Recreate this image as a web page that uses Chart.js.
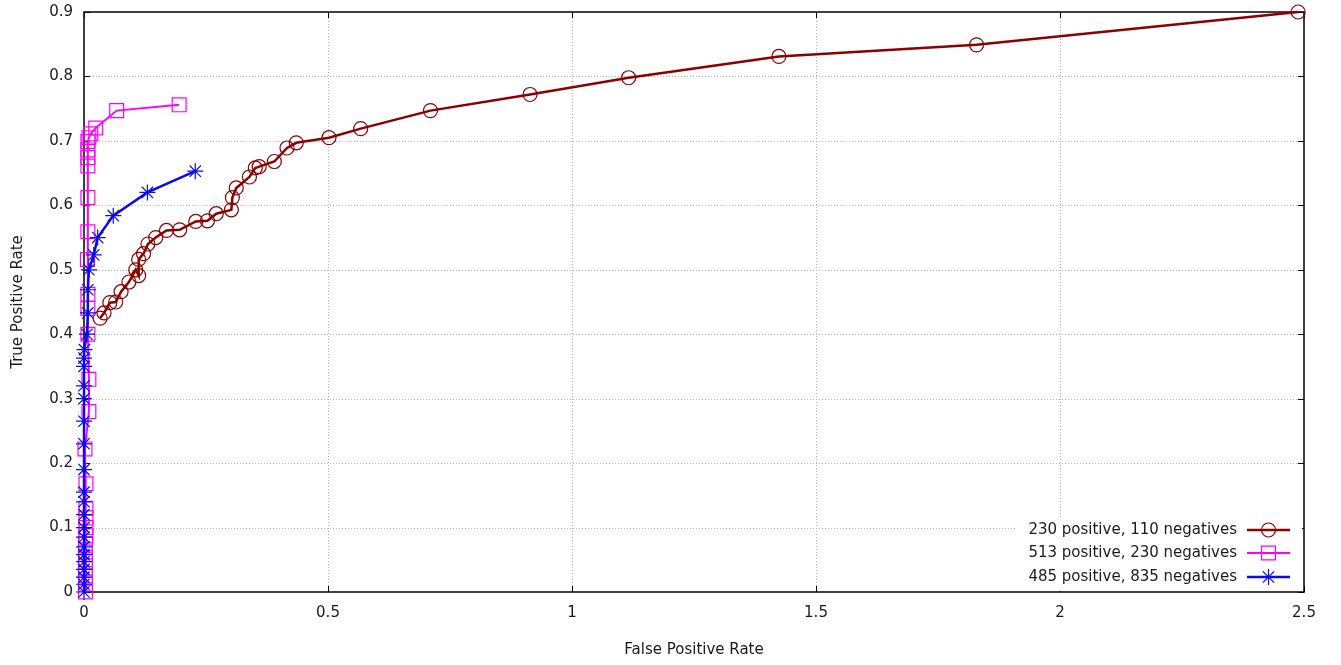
<!DOCTYPE html>
<html>
<head>
<meta charset="utf-8">
<title>ROC curves</title>
<script src="https://cdn.jsdelivr.net/npm/chart.js@4.4.1/dist/chart.umd.min.js"></script>
<style>
  html, body { margin: 0; padding: 0; background: #ffffff; }
  #wrap { width: 1341px; height: 665px; }
</style>
</head>
<body>
<div id="wrap"><canvas id="roc" width="1341" height="665"></canvas></div>
<script>
// Axis ticks
const xTickValues = [0, 0.5, 1, 1.5, 2, 2.5];
const yTickValues = [0, 0.1, 0.2, 0.3, 0.4, 0.5, 0.6, 0.7, 0.8, 0.9];

// Series names
const seriesLabels = [
  '230 positive, 110 negatives',
  '513 positive, 230 negatives',
  '485 positive, 835 negatives'
];

// Series 1: 230 positive, 110 negatives
const fprSmall = [0.033, 0.041, 0.053, 0.065, 0.076, 0.092, 0.106, 0.112, 0.112, 0.122,
                  0.131, 0.147, 0.169, 0.196, 0.229, 0.253, 0.271, 0.302, 0.304, 0.312,
                  0.339, 0.351, 0.359, 0.390, 0.416, 0.435, 0.502, 0.567, 0.710, 0.914,
                  1.116, 1.424, 1.829, 2.488];
const tprSmall = [0.425, 0.433, 0.449, 0.450, 0.466, 0.481, 0.500, 0.491, 0.516, 0.525,
                  0.540, 0.550, 0.561, 0.562, 0.575, 0.576, 0.587, 0.593, 0.612, 0.627,
                  0.644, 0.658, 0.660, 0.668, 0.689, 0.697, 0.705, 0.719, 0.747, 0.772,
                  0.798, 0.831, 0.849, 0.900];

// Series 2: 513 positive, 230 negatives
const fprMedium = [0.003, 0.003, 0.003, 0.003, 0.003, 0.003, 0.003, 0.004, 0.004, 0.004,
                   0.004, 0.004, 0.002, 0.010, 0.010, 0.008, 0.008, 0.008, 0.007, 0.008,
                   0.008, 0.008, 0.008, 0.008, 0.008, 0.010, 0.014, 0.024, 0.067, 0.195];
const tprMedium = [0.000, 0.012, 0.025, 0.037, 0.050, 0.062, 0.075, 0.087, 0.100, 0.115,
                   0.130, 0.168, 0.222, 0.280, 0.330, 0.400, 0.440, 0.462, 0.516, 0.559,
                   0.612, 0.661, 0.674, 0.686, 0.699, 0.705, 0.711, 0.720, 0.747, 0.756];

// Series 3: 485 positive, 835 negatives
const fprLarge = [0, 0, 0, 0, 0, 0, 0, 0, 0, 0,
                  0, 0, 0, 0, 0, 0, 0, 0, 0, 0.001,
                  0.006, 0.008, 0.008, 0.010, 0.020, 0.028, 0.060, 0.130, 0.228];
const tprLarge = [0.000, 0.012, 0.023, 0.035, 0.047, 0.058, 0.070, 0.085, 0.100, 0.120,
                  0.140, 0.155, 0.190, 0.230, 0.265, 0.300, 0.320, 0.350, 0.363, 0.376,
                  0.400, 0.433, 0.469, 0.500, 0.523, 0.550, 0.584, 0.620, 0.653];

const seriesColors = ['#8b0000', '#ff00ff', '#0a0aee'];
const FONT = 'DejaVu Sans';
const TEXT_COLOR = '#1a1a1a';

function zip(xs, ys) { return xs.map((x, i) => ({ x: x, y: ys[i] })); }

// Light dotted grid, black frame and inward tick marks on all four sides
const framePlugin = {
  id: 'frameGrid',
  beforeDatasetsDraw(chart) {
    const { ctx, chartArea: a, scales: { x, y } } = chart;
    ctx.save();
    ctx.lineWidth = 1;
    ctx.strokeStyle = '#b0b0b0';
    ctx.setLineDash([1, 2]);
    xTickValues.forEach(v => {
      const px = Math.round(x.getPixelForValue(v)) + 0.5;
      if (px <= a.left + 1 || px >= a.right - 1) return;
      ctx.beginPath(); ctx.moveTo(px, a.top); ctx.lineTo(px, a.bottom); ctx.stroke();
    });
    yTickValues.forEach(v => {
      const py = Math.round(y.getPixelForValue(v)) + 0.5;
      if (py <= a.top + 1 || py >= a.bottom - 1) return;
      ctx.beginPath(); ctx.moveTo(a.left, py); ctx.lineTo(a.right, py); ctx.stroke();
    });
    ctx.setLineDash([]);
    ctx.strokeStyle = '#000000';
    ctx.lineWidth = 1;
    const t = 6;
    xTickValues.forEach(v => {
      const px = Math.round(x.getPixelForValue(v)) + 0.5;
      ctx.beginPath();
      ctx.moveTo(px, a.bottom); ctx.lineTo(px, a.bottom - t);
      ctx.moveTo(px, a.top); ctx.lineTo(px, a.top + t);
      ctx.stroke();
    });
    yTickValues.forEach(v => {
      const py = Math.round(y.getPixelForValue(v)) + 0.5;
      ctx.beginPath();
      ctx.moveTo(a.left, py); ctx.lineTo(a.left + t, py);
      ctx.moveTo(a.right, py); ctx.lineTo(a.right - t, py);
      ctx.stroke();
    });
    ctx.lineWidth = 1.5;
    ctx.strokeRect(a.left, a.top, a.right - a.left, a.bottom - a.top);
    ctx.restore();
  }
};

function drawMarker(ctx, style, cx, cy, r) {
  ctx.beginPath();
  if (style === 'circle') {
    ctx.arc(cx, cy, r, 0, Math.PI * 2);
  } else if (style === 'rect') {
    const h = r * Math.SQRT1_2;
    ctx.rect(cx - h, cy - h, 2 * h, 2 * h);
  } else {
    const d = r * Math.SQRT1_2;
    ctx.moveTo(cx - r, cy); ctx.lineTo(cx + r, cy);
    ctx.moveTo(cx, cy - r); ctx.lineTo(cx, cy + r);
    ctx.moveTo(cx - d, cy - d); ctx.lineTo(cx + d, cy + d);
    ctx.moveTo(cx - d, cy + d); ctx.lineTo(cx + d, cy - d);
  }
  ctx.stroke();
}

// Key in the lower right corner: text, then a line sample with its marker
const keyPlugin = {
  id: 'cornerKey',
  afterDatasetsDraw(chart) {
    const { ctx, chartArea: a } = chart;
    ctx.save();
    ctx.fillStyle = '#ffffff';
    ctx.fillRect(a.right - 289, a.bottom - 75, 287, 74);
    const textRight = a.right - 67;
    const lineL = a.right - 57, lineR = a.right - 14;
    const rowY = [a.bottom - 62, a.bottom - 39, a.bottom - 15];
    ctx.font = '15px "' + FONT + '"';
    ctx.textAlign = 'right';
    ctx.textBaseline = 'middle';
    chart.data.datasets.forEach((ds, i) => {
      const yy = rowY[i];
      ctx.fillStyle = TEXT_COLOR;
      ctx.fillText(ds.label, textRight, yy);
      ctx.strokeStyle = ds.borderColor;
      ctx.lineWidth = ds.borderWidth;
      ctx.beginPath(); ctx.moveTo(lineL, yy); ctx.lineTo(lineR, yy); ctx.stroke();
      ctx.lineWidth = ds.pointBorderWidth;
      drawMarker(ctx, ds.pointStyle, (lineL + lineR) / 2, yy, ds.pointRadius);
    });
    ctx.restore();
  }
};

function makeSet(i, xs, ys, style, radius, width, order) {
  return {
    label: seriesLabels[i],
    data: zip(xs, ys),
    showLine: true,
    tension: 0,
    borderColor: seriesColors[i],
    backgroundColor: 'rgba(0,0,0,0)',
    borderWidth: width,
    pointStyle: style,
    pointRadius: radius,
    pointHoverRadius: radius,
    pointBorderColor: seriesColors[i],
    pointBackgroundColor: 'rgba(0,0,0,0)',
    pointBorderWidth: 1.2,
    clip: false,
    order: order
  };
}

new Chart(document.getElementById('roc'), {
  type: 'scatter',
  data: {
    datasets: [
      makeSet(0, fprSmall, tprSmall, 'circle', 7, 2.5, 3),
      makeSet(1, fprMedium, tprMedium, 'rect', 9.8, 2, 2),
      makeSet(2, fprLarge, tprLarge, 'star', 8, 2.5, 1)
    ]
  },
  options: {
    responsive: false,
    animation: false,
    layout: { padding: { left: 0, right: 37, top: 12, bottom: 0 } },
    plugins: { legend: { display: false }, tooltip: { enabled: false } },
    scales: {
      x: {
        type: 'linear', min: 0, max: 2.5,
        afterBuildTicks: s => { s.ticks = xTickValues.map(v => ({ value: v })); },
        afterFit: s => { s.height = 73; s.paddingLeft = 0; s.paddingRight = 0; },
        grid: { display: false, drawTicks: false },
        border: { display: false },
        ticks: {
          autoSkip: false, maxRotation: 0, padding: 12, color: TEXT_COLOR,
          font: { family: FONT, size: 15 },
          callback: v => String(v)
        },
        title: {
          display: true, text: 'False Positive Rate', color: TEXT_COLOR,
          font: { family: FONT, size: 15 }, padding: { top: 0, bottom: 6 }
        }
      },
      y: {
        type: 'linear', min: 0, max: 0.9,
        afterBuildTicks: s => { s.ticks = yTickValues.map(v => ({ value: v })); },
        afterFit: s => { s.width = 84; s.paddingTop = 0; s.paddingBottom = 0; },
        grid: { display: false, drawTicks: false },
        border: { display: false },
        ticks: {
          autoSkip: false, padding: 11, color: TEXT_COLOR,
          font: { family: FONT, size: 15 },
          callback: v => String(v)
        },
        title: {
          display: true, text: 'True Positive Rate', color: TEXT_COLOR,
          font: { family: FONT, size: 15 }, padding: { top: 9, bottom: 0 }
        }
      }
    }
  },
  plugins: [framePlugin, keyPlugin]
});
</script>
</body>
</html>
